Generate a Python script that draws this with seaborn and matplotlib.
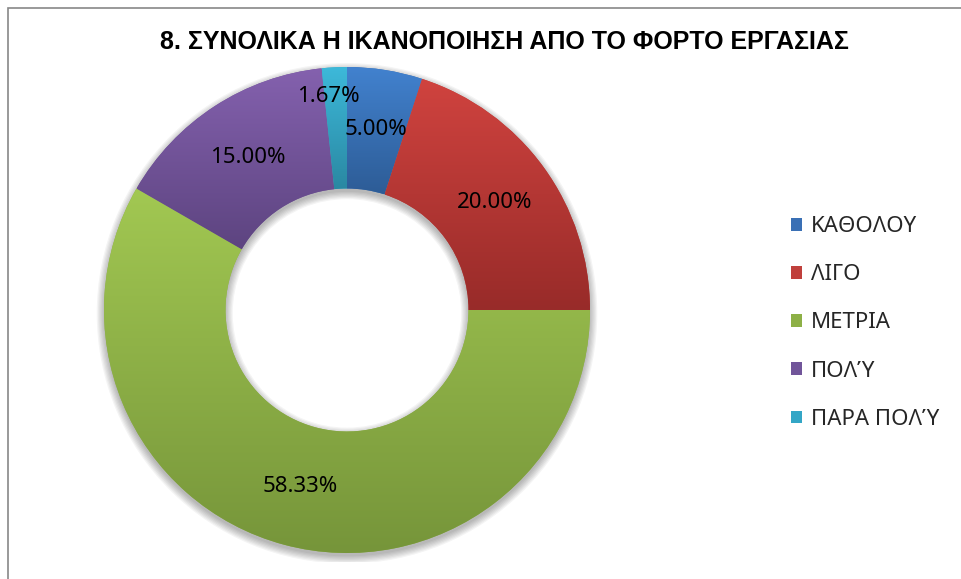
import numpy as np
import matplotlib
matplotlib.use("Agg")
import matplotlib.pyplot as plt
from matplotlib.colors import LinearSegmentedColormap
from matplotlib.patches import Rectangle, Wedge
import seaborn as sns

categories = ['ΚΑΘΟΛΟΥ', 'ΛΙΓΟ', 'ΜΕΤΡΙΑ', 'ΠΟΛΎ', 'ΠΑΡΑ ΠΟΛΎ']
values = [5.00, 20.00, 58.33, 15.00, 1.67]
title = '8. ΣΥΝΟΛΙΚΑ Η ΙΚΑΝΟΠΟΙΗΣΗ ΑΠΟ ΤΟ ΦΟΡΤΟ ΕΡΓΑΣΙΑΣ'

top_colors = ['#4282CF', '#D0433F', '#A2C852', '#8461AE', '#3DB9DA']
bottom_colors = ['#2D5C96', '#982B29', '#76953A', '#5D4480', '#2A88A2']
mid_colors = ['#3A70B5', '#C0403C', '#8DB046', '#71559A', '#33A6C6']

sns.set_theme(style="white")
plt.rcParams['font.family'] = ['Noto Sans', 'DejaVu Sans']

fig = plt.figure(figsize=(9.61, 5.79), dpi=100)
W, H = 961, 579
cx, cy, R = 347, 310, 243
half = 252
ax = fig.add_axes([(cx - half) / W, (H - cy - half) / H, 2 * half / W, 2 * half / H])
lim = half / R

wedges, texts, autotexts = ax.pie(
    values, startangle=90, counterclock=False, radius=1,
    colors=mid_colors, autopct='%.2f%%', pctdistance=0.75,
    wedgeprops=dict(width=0.5, edgecolor='none', linewidth=0),
    textprops=dict(fontsize=16, color='black'))

# soft shadow under the ring
for i in range(7):
    e = i * 0.005
    sh = Wedge((0, -0.014), 1 + e, 0, 360, width=0.5 + 2 * e,
               facecolor='black', edgecolor='none', alpha=0.045, zorder=0.5)
    ax.add_patch(sh)

# gradient fill clipped to each wedge
for w, c1, c2 in zip(wedges, top_colors, bottom_colors):
    w.set_zorder(2)
    ext = w.get_path().get_extents()
    cmap = LinearSegmentedColormap.from_list('g', [c2, c1])
    grad = np.linspace(0, 1, 256).reshape(-1, 1)
    im = ax.imshow(grad, cmap=cmap, origin='lower', aspect='auto',
                   extent=[ext.x0, ext.x1, ext.y0, ext.y1], zorder=2.1)
    im.set_clip_path(w)

# shift the small slice label outward like the reference
w = wedges[4]
ang = np.deg2rad((w.theta1 + w.theta2) / 2 + 2)
autotexts[4].set_position((0.88 * np.cos(ang), 0.88 * np.sin(ang)))
for t in autotexts:
    t.set_zorder(10)

ax.set_xlim(-lim, lim)
ax.set_ylim(-lim, lim)
ax.set_aspect('equal')
ax.axis('off')

fig.text(504 / W, 1 - 42 / H, title, ha='center', va='center', fontsize=18,
         fontweight='bold', color='black', family=['Liberation Sans', 'DejaVu Sans'])

leg = fig.legend(wedges, categories, loc='center left', bbox_to_anchor=(791 / W, 1 - 323 / H),
                 frameon=False, fontsize=16, handlelength=0.5, handleheight=0.5,
                 handletextpad=0.4, labelspacing=1.22, borderpad=0, borderaxespad=0)

fig.patches.append(Rectangle((7.5 / W, -0.1), 1.2, 1.1 - 7.5 / H, transform=fig.transFigure,
                             fill=False, edgecolor='#878787', linewidth=1.2))

fig.savefig('out.png', dpi=100)
